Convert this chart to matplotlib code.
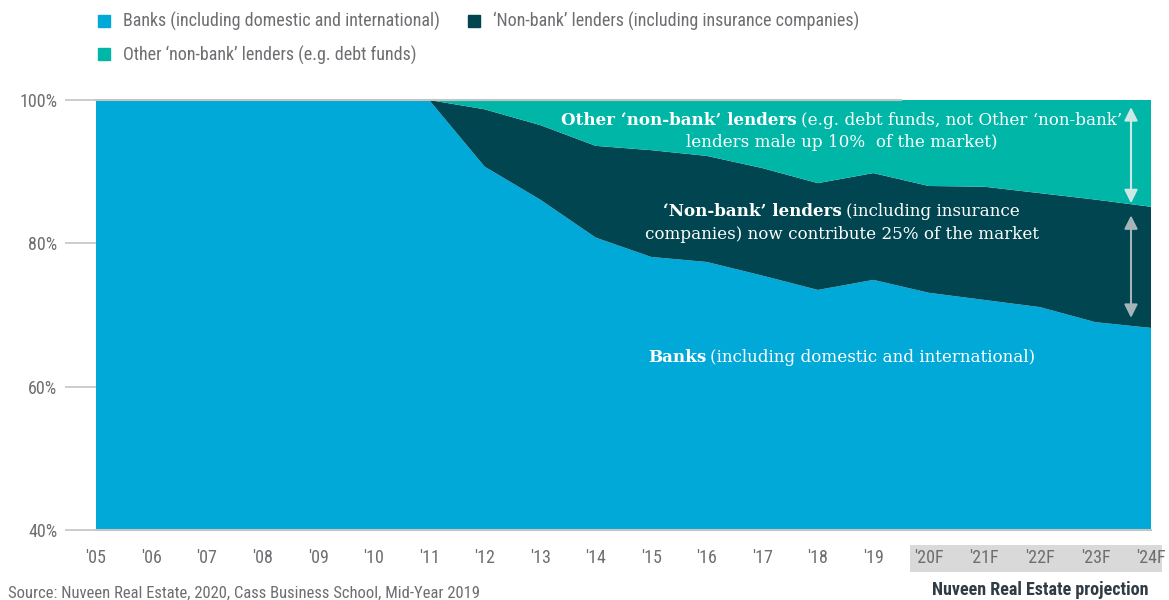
import matplotlib
matplotlib.use("Agg")
import matplotlib.pyplot as plt
from matplotlib import font_manager as fm
from matplotlib.patches import Patch, Rectangle
from matplotlib.offsetbox import TextArea, HPacker, AnnotationBbox

# ---------------- data ----------------
years = ["'05", "'06", "'07", "'08", "'09", "'10", "'11", "'12", "'13", "'14",
         "'15", "'16", "'17", "'18", "'19", "'20F", "'21F", "'22F", "'23F", "'24F"]
banks = [100, 100, 100, 100, 100, 100, 100, 90.7, 86.1, 80.8,
         78.1, 77.4, 75.5, 73.5, 74.9, 73.1, 72.1, 71.1, 69.0, 68.2]
non_bank = [0, 0, 0, 0, 0, 0, 0, 8.0, 10.4, 12.8,
            14.9, 14.8, 15.0, 14.9, 14.9, 14.9, 15.8, 15.9, 17.1, 16.9]
other_non_bank = [0, 0, 0, 0, 0, 0, 0, 1.3, 3.5, 6.4,
                  7.0, 7.8, 9.5, 11.6, 10.2, 12.0, 12.1, 13.0, 13.9, 14.9]
y_ticks = [40, 60, 80, 100]
y_tick_labels = ["40%", "60%", "80%", "100%"]
legend_labels = ["Banks (including domestic and international)",
                 "\u2018Non-bank\u2019 lenders (including insurance companies)",
                 "Other \u2018non-bank\u2019 lenders (e.g. debt funds)"]

C_BANK = "#00A9D7"
C_NONBANK = "#00454F"
C_OTHER = "#00B7A7"
GRAY_TXT = "#6D6E71"
GRID = "#C4C4C4"

# ---------------- fonts ----------------
names = {f.name for f in fm.fontManager.ttflist}
sans = "DejaVu Sans"
for cand in ["Roboto Condensed", "Liberation Sans Narrow", "Open Sans Condensed", "Arial Narrow"]:
    if cand in names:
        sans = cand
        break
plt.rcParams["font.family"] = [sans, "DejaVu Sans"]
serif = "DejaVu Serif"

# ---------------- figure ----------------
fig = plt.figure(figsize=(11.69, 6.0), dpi=100)
ax = fig.add_axes([96 / 1169, 1 - 530 / 600, (1151 - 96) / 1169, 430 / 600])

x = list(range(len(years)))
ax.stackplot(x, banks, non_bank, other_non_bank,
             colors=[C_BANK, C_NONBANK, C_OTHER], linewidth=0)
ax.set_xlim(0, len(years) - 1)
ax.set_ylim(40, 100)

for s in ["top", "right", "left"]:
    ax.spines[s].set_visible(False)
ax.spines["bottom"].set_color(GRID)
ax.spines["bottom"].set_linewidth(1.5)

ax.set_yticks(y_ticks)
ax.set_yticklabels(y_tick_labels)
ax.tick_params(axis="y", length=22, width=1.2, color=GRID, pad=6,
               labelsize=13, labelcolor=GRAY_TXT)
ax.set_xticks(x)
ax.set_xticklabels(years)
ax.tick_params(axis="x", length=0, pad=14, labelsize=13, labelcolor=GRAY_TXT)

# 100% line over the historic part
ax.plot([0, 14.5], [100, 100], color=GRID, lw=1.5, clip_on=False, zorder=5)

# gray box behind forecast labels
ax.add_patch(Rectangle((14.66, -0.098), 4.54, 0.063,
                       transform=ax.get_xaxis_transform(), facecolor="#D9D9D9",
                       edgecolor="none", clip_on=False, zorder=0))

# arrows
ax.annotate("", xy=(18.64, 99.0), xytext=(18.64, 85.6),
            arrowprops=dict(arrowstyle="<|-|>", color="#CDE9E6", lw=1.5,
                            mutation_scale=20, shrinkA=0, shrinkB=0))
ax.annotate("", xy=(18.64, 83.9), xytext=(18.64, 69.6),
            arrowprops=dict(arrowstyle="<|-|>", color="#A7B5BA", lw=1.5,
                            mutation_scale=20, shrinkA=0, shrinkB=0))

# annotations (mixed bold / regular)
FS = 12.1
def mixed(xc, yc, bold, regular):
    parts = []
    if bold:
        parts.append(TextArea(bold, textprops=dict(color="white", fontsize=FS,
                                                   family=serif, weight="bold")))
    if regular:
        parts.append(TextArea(regular, textprops=dict(color="white", fontsize=FS,
                                                      family=serif)))
    box = HPacker(children=parts, sep=3, pad=0, align="baseline")
    ab = AnnotationBbox(box, (xc, yc), xycoords="data", frameon=False,
                        box_alignment=(0.5, 0.5), pad=0)
    ax.add_artist(ab)

xc = 13.43
mixed(xc, 97.07, "Other \u2018non-bank\u2019 lenders", "(e.g. debt funds, not Other \u2018non-bank\u2019")
mixed(xc, 94.0, None, "lenders male up 10%  of the market)")
mixed(xc, 84.4, "\u2018Non-bank\u2019 lenders", "(including insurance")
mixed(xc, 81.3, None, "companies) now contribute 25% of the market")
mixed(xc, 64.1, "Banks", "(including domestic and international)")

# legend
handles = [Patch(color=C_BANK), Patch(color=C_OTHER), Patch(color=C_NONBANK)]
labels = [legend_labels[0], legend_labels[2], legend_labels[1]]
fig.legend(handles, labels, loc="upper left", bbox_to_anchor=(82 / 1169, 1 + 4 / 600),
           ncol=2, frameon=False, fontsize=13, labelcolor=GRAY_TXT,
           handlelength=0.65, handleheight=0.65, handletextpad=0.7,
           columnspacing=1.6, labelspacing=0.8)

fig.text(8 / 1169, 1 - 593 / 600, "Source: Nuveen Real Estate, 2020, Cass Business School, Mid-Year 2019",
         fontsize=12, color=GRAY_TXT, va="center", ha="left")
fig.text(1040 / 1169, 1 - 590 / 600, "Nuveen Real Estate projection",
         fontsize=13, color="#2F3B45", weight="bold", va="center", ha="center")

fig.savefig("out.png", dpi=100)
